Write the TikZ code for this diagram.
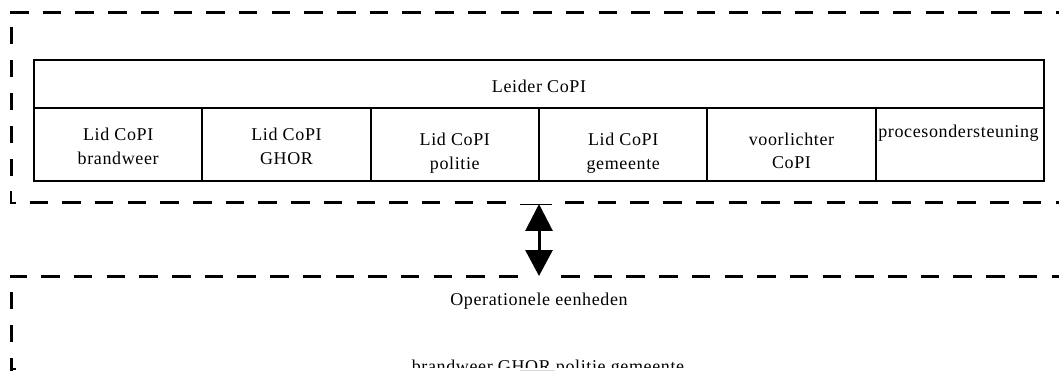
\documentclass[tikz,border=0pt]{standalone}
\usepackage{fontspec}
\setmainfont[LetterSpace=3.5]{Liberation Serif}
\usetikzlibrary{arrows.meta}
\begin{document}
\begin{tikzpicture}[x=1pt,y=-1pt,
  dashH/.style={line width=3pt, dash pattern=on 18.5pt off 14.2pt},
  dashV/.style={line width=3pt, dash pattern=on 17pt off 16pt},
  cell/.style={draw, line width=2pt, minimum width=168.33pt, minimum height=73pt, inner sep=0pt},
  head/.style={draw, line width=2pt, minimum width=1010pt, minimum height=48pt, inner sep=0pt},
  txt/.style={font=\fontsize{18}{24}\selectfont, inner sep=0pt, anchor=base}]
\path[use as bounding box] (0,0) rectangle (1059,371);
\clip (0,0) rectangle (1059,371);
% top dashed box
\draw[dashH] (10,13) -- (1075,13);
\draw[dashV, dash phase=19] (11,13) -- (11,188);
\draw[line width=2.5pt] (11,191) -- (11,203) -- (16,203);
\draw[dashH] (29.5,203) -- (510,203);
\draw[dashH] (565,203) -- (1075,203);
% bottom dashed box
\draw[dashH, dash phase=1.5] (10,276) -- (518,276);
\draw[dashH, dash phase=0] (561,276) -- (1075,276);
\draw[dashV, dash phase=17] (11,276) -- (11,371);
\draw[line width=2.5pt] (11,358) -- (11,369) -- (16,369);
% table
\node[head] (lead) at (539,84) {};
\node[cell] (c1) at (118.2,144.5) {};
\node[cell] (c2) at (286.5,144.5) {};
\node[cell] (c3) at (454.8,144.5) {};
\node[cell] (c4) at (623.2,144.5) {};
\node[cell] (c5) at (791.5,144.5) {};
\node[cell] (c6) at (959.8,144.5) {};
\node[txt] (leadt) at (539,93) {Leider CoPI};
\node[txt] (c1a) at (118.2,141) {Lid CoPI};
\node[txt] (c1b) at (118.2,165) {brandweer};
\node[txt] (c2a) at (286.5,141) {Lid CoPI};
\node[txt] (c2b) at (286.5,165) {GHOR};
\node[txt] (c3a) at (454.8,146) {Lid CoPI};
\node[txt] (c3b) at (454.8,170) {politie};
\node[txt] (c4a) at (623.2,146) {Lid CoPI};
\node[txt] (c4b) at (623.2,170) {gemeente};
\node[txt] (c5a) at (791.5,146) {voorlichter};
\node[txt] (c5b) at (791.5,169) {CoPI};
\node[txt] (c6a) at (958.5,138) {procesondersteuning};
% arrow between boxes
\coordinate (a1) at (539,204);
\coordinate (a2) at (539,276);
\coordinate (b1) at (520,204.5);
\coordinate (b2) at (552,204.5);
\draw[line width=1.2pt] (b1) -- (b2);
\draw[line width=3pt, {Triangle[width=27pt,length=27pt]}-{Triangle[width=27pt,length=26pt]}] (a1) -- (a2);
% lower box contents
\node[txt] (ops) at (539,305) {Operationele eenheden};
\begin{scope}
\clip (0,0) rectangle (1059,367.5);
\node[txt] (units) at (548,372) {brandweer GHOR politie gemeente};
\end{scope}
\coordinate (g1) at (520,370.5);
\coordinate (g2) at (555,370.5);
\draw[line width=1pt, black!15] (g1) -- (g2);
\end{tikzpicture}
\end{document}
